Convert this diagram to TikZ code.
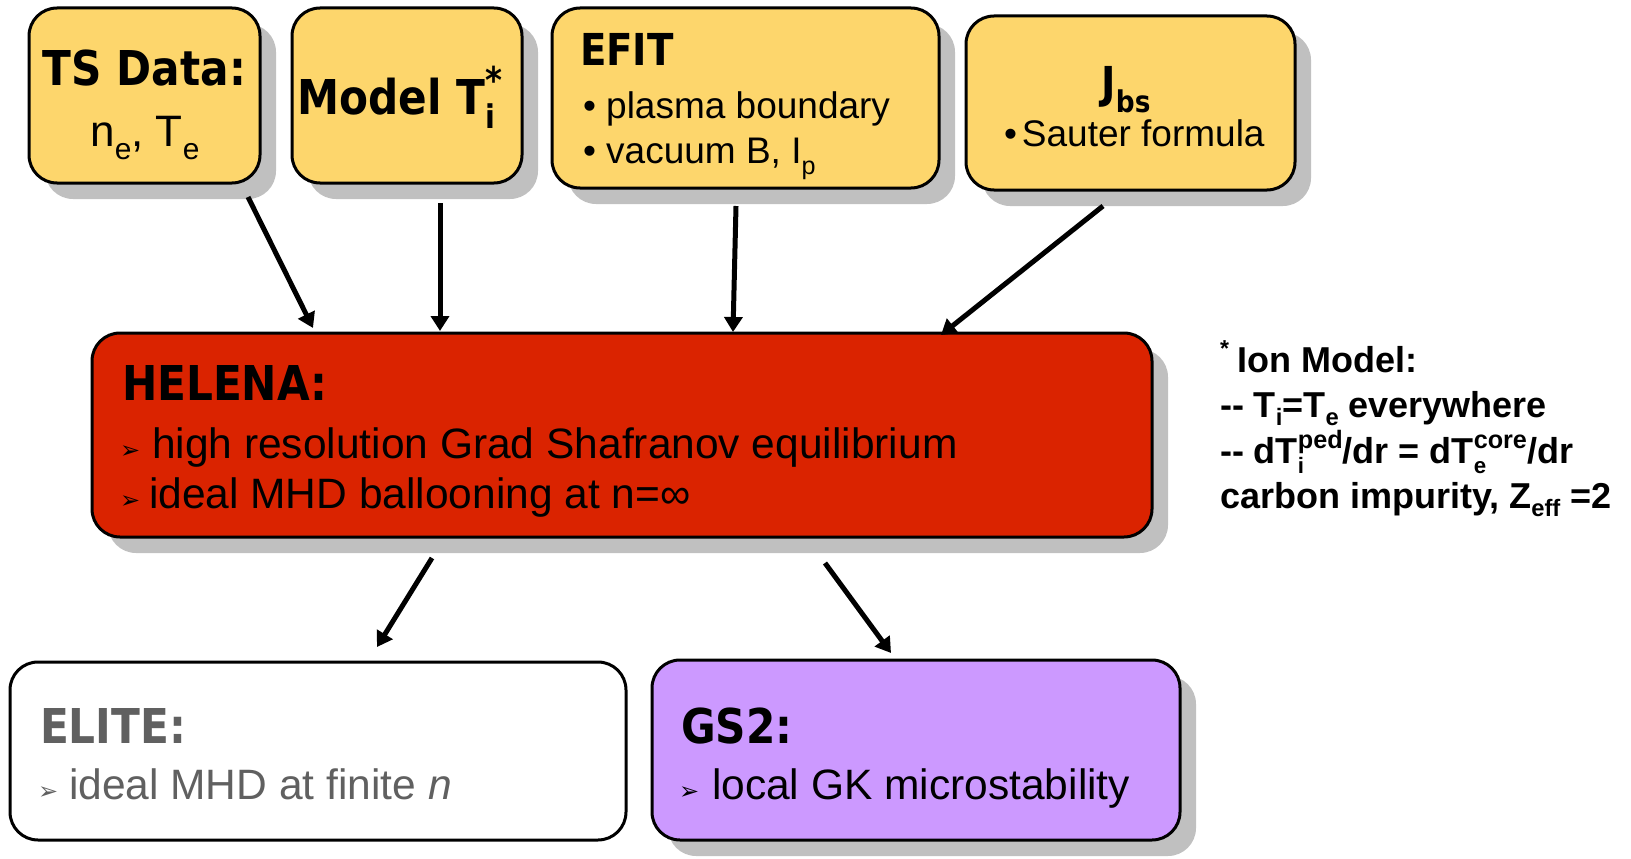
\documentclass[tikz,border=0pt]{standalone}
\usepackage{fontspec}
\usepackage{graphicx}
\setmainfont{Liberation Sans}
\newfontfamily\hdfont{DejaVu Sans}[FakeStretch=0.88]
\newfontfamily\dingfont{DejaVu Sans}
\usetikzlibrary{arrows.meta,shadows}

\definecolor{boxyellow}{RGB}{253,214,108}
\definecolor{boxred}{RGB}{218,35,0}
\definecolor{boxpurple}{RGB}{204,153,255}
\definecolor{shadowgray}{RGB}{192,192,192}
\definecolor{elitegray}{RGB}{96,96,96}

% sub- and superscripts set in the running text font
\newcommand\lo[1]{\raisebox{-0.3em}{\scalebox{0.68}{#1}}}
\newcommand\los[1]{\raisebox{-0.24em}{\scalebox{0.66}{#1}}}
\newcommand\loc[1]{\raisebox{-0.3em}{\scalebox{0.62}{#1}}}
\newcommand\hi[1]{\raisebox{0.42em}{\scalebox{0.64}{#1}}}
\newcommand\hic[1]{\raisebox{0.41em}{\scalebox{0.7}{#1}}}
\newcommand\fsz[1]{\fontsize{#1}{#1}\selectfont}
\newcommand\arrowbullet{{\dingfont\fsz{24}➢}}

\tikzset{
  box/.style={draw=black, line width=3pt, rounded corners=28pt,
    inner sep=0pt, outer sep=0pt},
  shad/.style={drop shadow={shadow xshift=16pt, shadow yshift=-16pt,
    fill=shadowgray, opacity=1}},
  txt/.style={inner sep=0pt, outer sep=0pt},
  head/.style={txt, font=\hdfont\bfseries\fsz{48}},
  body/.style={txt, font=\fsz{42.5}},
  small/.style={txt, font=\fsz{37}},
  note/.style={txt, anchor=base west, font=\bfseries\fsz{36}},
  arr/.style={line width=5pt, -{Triangle[length=15pt,width=18pt]}}
}

\begin{document}
\begin{tikzpicture}[x=1pt,y=-1pt]
\useasboundingbox (0,0) rectangle (1631,859);

% ---------- input boxes ----------
\node[box, shad, fill=boxyellow, minimum width=231pt, minimum height=175pt] (ts) at (144.5,95.5) {};
\node[box, shad, fill=boxyellow, minimum width=230pt, minimum height=175pt] (model) at (407,95.5) {};
\node[box, shad, fill=boxyellow, minimum width=387pt, minimum height=180pt] (efit) at (745.5,98) {};
\node[box, shad, fill=boxyellow, minimum width=329pt, minimum height=174pt] (jbs) at (1130.5,103) {};

\node[head, anchor=base] (tshead) at (144.5,85) {TS Data:};
\node[txt, anchor=base, font=\fsz{44}] (tsbody) at (145,146) {n\lo{e}, T\lo{e}};

\node[head, anchor=base] (modelhead) at (400,114) {Model T\rlap{\lo{i}}\hi{\scalebox{1.2}{*}}};

\node[head, anchor=base west, font=\hdfont\bfseries\fsz{44}] (efithead) at (580,66) {EFIT};
\node[small, anchor=base west] (efitone) at (583,118) {•\ plasma boundary};
\node[small, anchor=base west] (efittwo) at (583,163) {•\ vacuum B, I\lo{p}};

\node[head, anchor=base, font=\hdfont\bfseries\fsz{44}] (jbshead) at (1126,99) {J\lo{bs}};
\node[small, anchor=base west] (jbsone) at (1004,146) {•\kern5pt Sauter formula};

% ---------- HELENA ----------
\node[box, shad, fill=boxred, minimum width=1060pt, minimum height=204pt] (hel) at (622,435) {};
\node[head, anchor=base west] (helhead) at (122,400) {HELENA:};
\node[txt, anchor=base west] (helbulone) at (120,458) {\arrowbullet};
\node[body, anchor=base west] (helone) at (152,458) {high resolution Grad Shafranov equilibrium};
\node[txt, anchor=base west] (helbultwo) at (120,508) {\arrowbullet};
\node[body, anchor=base west] (heltwo) at (149,508) {ideal MHD ballooning at n=∞};

% ---------- ELITE and GS2 ----------
\node[box, fill=white, minimum width=616pt, minimum height=178pt] (elite) at (318,751) {};
\node[head, anchor=base west, text=elitegray] (elitehead) at (40,743) {ELITE:};
\node[txt, anchor=base west, text=elitegray] (elitebul) at (38,799) {\arrowbullet};
\node[body, anchor=base west, text=elitegray] (eliteone) at (69,799) {ideal MHD at finite \textit{n}};

\node[box, shad, fill=boxpurple, minimum width=528pt, minimum height=180pt] (gs) at (916,750) {};
\node[head, anchor=base west] (gshead) at (681,743) {GS2:};
\node[txt, anchor=base west] (gsbul) at (679,799) {\arrowbullet};
\node[body, anchor=base west] (gsone) at (712,799) {local GK microstability};

% ---------- footnote on the ion model ----------
\node[note] (noteone) at (1220,372) {\hi{*}\kern9pt Ion Model:};
\node[note] (notetwo) at (1220,417) {-{}- T\los{i}=T\los{e} everywhere};
\node[note] (notethree) at (1220,463) {-{}- dT\rlap{\loc{i}}\hic{ped}/dr = dT\rlap{\loc{e}}\hic{core}/dr};
\node[note] (notefour) at (1220,508) {carbon impurity, Z\los{eff} =2};

% ---------- connector end points ----------
\coordinate (tsout)    at (248,197);
\coordinate (helinA)   at (313,328);
\coordinate (modelout) at (440,203);
\coordinate (helinB)   at (440,331);
\coordinate (efitout)  at (736,206);
\coordinate (helinC)   at (733,332);
\coordinate (jbsout)   at (1103,206);
\coordinate (helinD)   at (941,335);
\coordinate (heloutA)  at (432,558);
\coordinate (elitein)  at (377,647);
\coordinate (heloutB)  at (825,563);
\coordinate (gsin)     at (891,653);

\draw[arr] (tsout) -- (helinA);
\draw[arr] (modelout) -- (helinB);
\draw[arr] (efitout) -- (helinC);
\draw[arr] (jbsout) -- (helinD);
\draw[arr] (heloutA) -- (elitein);
\draw[arr] (heloutB) -- (gsin);
\end{tikzpicture}
\end{document}
